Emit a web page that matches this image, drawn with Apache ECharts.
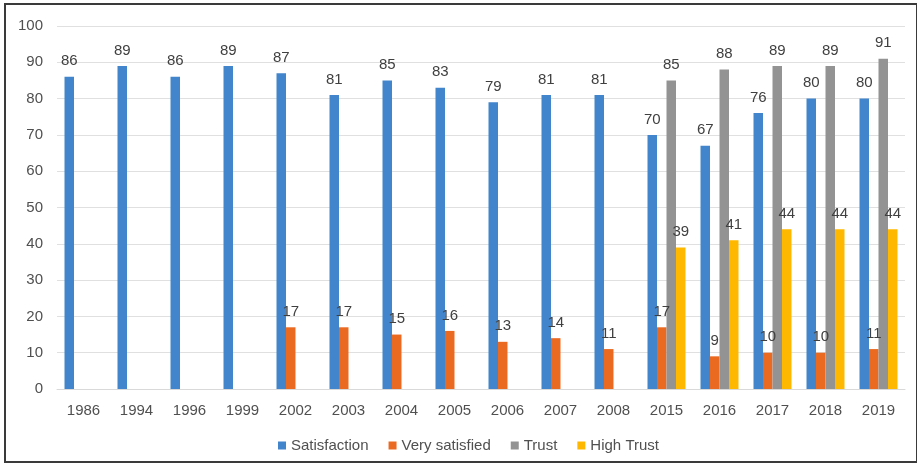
<!DOCTYPE html>
<html>
<head>
<meta charset="utf-8">
<script src="https://cdn.jsdelivr.net/npm/echarts@6/dist/echarts.min.js"></script>
<style>
html,body{margin:0;padding:0;background:#fff;}
#c{width:917px;height:472px;}
</style>
</head>
<body>
<div id="c"></div>
<script>
const years = ['1986','1994','1996','1999','2002','2003','2004','2005','2006','2007','2008','2015','2016','2017','2018','2019'];
const satisfaction = [86,89,86,89,87,81,85,83,79,81,81,70,67,76,80,80];
const verySatisfied = [null,null,null,null,17,17,15,16,13,14,11,17,9,10,10,11];
const trust = [null,null,null,null,null,null,null,null,null,null,null,85,88,89,89,91];
const highTrust = [null,null,null,null,null,null,null,null,null,null,null,39,41,44,44,44];
const yTicks = [0,10,20,30,40,50,60,70,80,90,100];

const FONT = '"Liberation Sans", Arial, sans-serif';
const chart = echarts.init(document.getElementById('c'));
function mk(name, data, color){
  return {
    name, type:'bar', data, barWidth:9.5, barGap:'0%',
    itemStyle:{color},
    label:{show:true, position:'top', distance:8, color:'#404040', fontSize:15, fontFamily:FONT}
  };
}
chart.setOption({
  animation:false,
  graphic:[{type:'rect', shape:{x:5,y:4,width:912,height:458}, style:{fill:'none', stroke:'#3a3a3a', lineWidth:2}, z:-1}],
  grid:{left:57, right:12, top:26, bottom:83},
  legend:{bottom:14, left:273, itemWidth:8, itemHeight:8, itemGap:20, icon:'rect',
    textStyle:{color:'#505050', fontSize:15, fontFamily:FONT},
    data:['Satisfaction','Very satisfied','Trust','High Trust']},
  xAxis:{type:'category', data:years,
    axisLine:{lineStyle:{color:'#d9d9d9'}}, axisTick:{show:false},
    axisLabel:{color:'#505050', fontSize:15, fontFamily:FONT, margin:14}},
  yAxis:{type:'value', min:yTicks[0], max:yTicks[yTicks.length-1], interval:10,
    axisLine:{show:false}, axisTick:{show:false},
    splitLine:{lineStyle:{color:'#e0e0e0'}},
    axisLabel:{color:'#505050', fontSize:15, fontFamily:FONT, margin:14}},
  series:[
    mk('Satisfaction', satisfaction, '#4285cc'),
    mk('Very satisfied', verySatisfied, '#eb6a22'),
    mk('Trust', trust, '#939393'),
    mk('High Trust', highTrust, '#ffb800')
  ]
});
</script>
</body>
</html>
